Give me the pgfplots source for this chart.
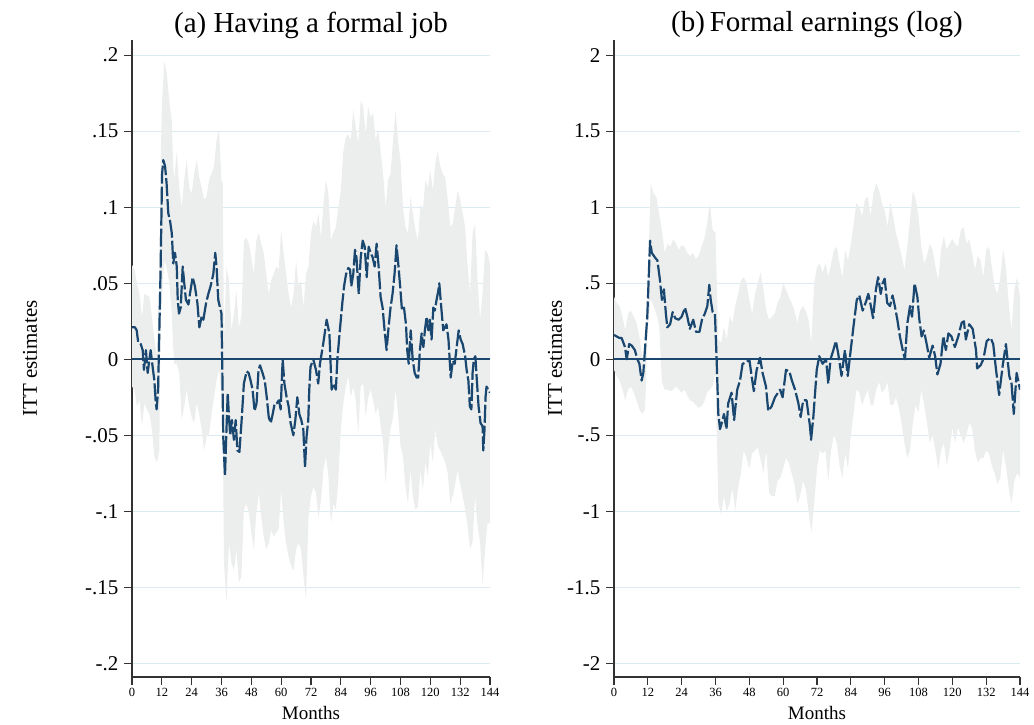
\documentclass[border=0pt]{standalone}
\usepackage{fontspec}
\setmainfont{Liberation Serif}
\usepackage{pgfplots}
\pgfplotsset{compat=1.18}
\usepgfplotslibrary{fillbetween}
\usepackage{pgfplotstable}
\definecolor{navy}{RGB}{26,71,111}
\definecolor{bandc}{RGB}{236,237,237}
\definecolor{gridc}{RGB}{218,235,241}

\pgfplotstableread{
t lo hi
0 -0.018 0.062
1 -0.020 0.059
2 -0.031 0.050
3 -0.027 0.043
4 -0.044 0.028
5 -0.029 0.043
6 -0.033 0.042
7 -0.036 0.041
8 -0.046 0.028
9 -0.064 0.013
10 -0.068 0.002
11 -0.060 0.056
11.4 0.020 0.120
12 0.040 0.166
13 0.065 0.196
14 0.060 0.188
15 0.050 0.170
16 0.030 0.157
16.5 0.010 0.130
17 -0.003 0.118
18 -0.003 0.137
19 -0.009 0.113
20 -0.040 0.100
21 -0.031 0.118
22 -0.020 0.131
23 -0.031 0.113
24 -0.038 0.109
25 -0.042 0.122
26 -0.029 0.131
27 -0.036 0.120
28 -0.046 0.113
29 -0.060 0.105
30 -0.051 0.107
31 -0.049 0.118
32 -0.036 0.122
33 -0.025 0.127
34 -0.014 0.144
35 -0.007 0.151
36 -0.025 0.118
36.5 -0.042 0.116
37 -0.134 0.013
38 -0.160 0.061
39 -0.121 0.052
40 -0.134 0.019
41 -0.139 0.030
42 -0.125 0.045
43 -0.147 0.021
44 -0.143 0.028
45 -0.099 0.078
46 -0.095 0.080
47 -0.101 0.076
48 -0.114 0.067
49 -0.125 0.056
50 -0.101 0.078
51 -0.088 0.083
52 -0.104 0.076
53 -0.117 0.070
54 -0.125 0.056
55 -0.121 0.043
56 -0.112 0.052
57 -0.117 0.056
58 -0.114 0.061
59 -0.112 0.059
60 -0.086 0.085
61 -0.108 0.070
62 -0.121 0.056
63 -0.130 0.043
64 -0.136 0.034
65 -0.139 0.043
66 -0.125 0.065
67 -0.121 0.048
68 -0.125 0.052
69 -0.143 0.034
70 -0.158 0.056
71 -0.104 0.061
72 -0.090 0.083
73 -0.084 0.091
74 -0.088 0.087
75 -0.104 0.096
76 -0.093 0.080
77 -0.073 0.102
78 -0.064 0.118
79 -0.077 0.109
80 -0.108 0.078
81 -0.095 0.083
82 -0.099 0.087
83 -0.079 0.100
84 -0.046 0.111
85 -0.029 0.137
86 -0.018 0.146
87 -0.011 0.148
88 -0.025 0.144
89 -0.018 0.164
90 -0.027 0.153
91 -0.049 0.142
92 -0.018 0.170
93 -0.016 0.166
94 -0.038 0.148
95 -0.025 0.166
96 -0.020 0.159
97 -0.027 0.162
98 -0.036 0.144
99 -0.031 0.151
100 -0.044 0.137
101 -0.055 0.122
102 -0.082 0.100
103 -0.060 0.118
104 -0.046 0.122
105 -0.038 0.144
106 -0.020 0.164
107 -0.036 0.144
108 -0.057 0.131
109 -0.064 0.100
110 -0.084 0.087
111 -0.095 0.083
112 -0.073 0.107
113 -0.090 0.096
114 -0.099 0.085
115 -0.097 0.078
116 -0.073 0.102
117 -0.086 0.098
118 -0.068 0.118
119 -0.077 0.113
120 -0.055 0.124
121 -0.068 0.111
122 -0.046 0.129
123 -0.057 0.137
124 -0.060 0.127
125 -0.064 0.122
126 -0.068 0.120
127 -0.075 0.105
128 -0.095 0.087
129 -0.090 0.089
130 -0.082 0.100
131 -0.073 0.111
132 -0.082 0.105
133 -0.090 0.096
134 -0.099 0.087
135 -0.110 0.061
136 -0.125 0.043
137 -0.120 0.083
138 -0.090 0.089
139 -0.110 0.052
140 -0.120 0.026
141 -0.148 0.043
142 -0.125 0.072
143 -0.108 0.070
144 -0.108 0.063
}\bandA

\pgfplotstableread{
t v
0 0.021
1.2 0.021
1.9 0.019
2.5 0.011
3.5 0.010
4.3 0.006
4.8 -0.007
5.6 0.006
6.3 -0.009
7.5 0.006
8.3 -0.005
9.0 -0.014
9.5 -0.027
9.9 -0.033
10.5 -0.020
11.0 0.019
11.5 0.059
12.1 0.122
12.6 0.131
13.3 0.127
13.9 0.116
14.6 0.096
15.3 0.091
16.0 0.083
16.6 0.063
17.3 0.070
18.0 0.061
18.4 0.039
18.9 0.030
19.6 0.034
20.4 0.061
20.9 0.052
21.7 0.039
22.7 0.036
23.3 0.043
24.4 0.054
25.3 0.048
26.3 0.037
27.1 0.021
28.0 0.028
28.7 0.026
29.8 0.037
30.7 0.043
31.6 0.048
32.7 0.056
33.5 0.070
34.0 0.061
34.7 0.039
35.4 0.034
36.0 0.030
36.5 -0.027
36.7 -0.051
37.4 -0.077
37.8 -0.056
38.5 -0.022
39.0 -0.038
39.5 -0.050
40.2 -0.040
41.0 -0.053
41.7 -0.040
42.4 -0.060
43.2 -0.061
44.1 -0.040
45.0 -0.016
46.1 -0.008
46.9 -0.009
47.7 -0.014
48.5 -0.020
49.3 -0.034
50.1 -0.029
50.9 -0.007
51.5 -0.004
52.5 -0.009
53.4 -0.014
54.2 -0.025
55.0 -0.038
55.8 -0.042
56.6 -0.036
57.4 -0.029
58.2 -0.029
59.1 -0.027
59.8 -0.033
60.6 0.000
61.3 -0.016
62.2 -0.025
63.0 -0.031
63.8 -0.042
64.9 -0.050
65.7 -0.040
66.5 -0.025
67.3 -0.036
68.1 -0.040
68.9 -0.046
69.6 -0.071
70.2 -0.051
70.9 -0.040
71.3 -0.020
71.8 -0.005
72.9 0.000
74.0 -0.007
74.9 -0.016
75.6 -0.003
76.9 0.010
78.3 0.026
79.4 0.017
80.3 -0.020
81.0 -0.016
82.0 -0.020
82.6 0.000
83.6 0.019
84.6 0.037
85.3 0.048
86.1 0.056
87.0 0.060
87.7 0.059
88.2 0.048
89.0 0.056
89.7 0.072
90.3 0.067
91.2 0.043
92.0 0.067
92.8 0.078
93.6 0.074
94.4 0.054
95.2 0.074
96.0 0.070
96.8 0.067
97.6 0.061
98.4 0.076
99.2 0.061
100.0 0.041
100.8 0.034
101.6 0.019
102.4 0.006
103.2 0.021
104.0 0.034
104.8 0.043
105.6 0.056
106.4 0.075
107.2 0.061
108.0 0.045
108.6 0.032
109.4 0.034
110.2 0.023
110.7 0.006
111.3 -0.003
112.1 0.019
112.9 0.000
113.7 -0.009
114.5 -0.012
115.1 -0.012
115.8 0.006
116.5 0.017
117.2 0.008
117.8 0.019
118.5 0.028
119.2 0.019
119.8 0.026
120.5 0.013
121.2 0.034
121.8 0.032
122.5 0.039
123.2 0.045
123.6 0.050
124.4 0.034
125.2 0.019
126.5 0.023
127.3 0.013
128.2 -0.012
129.0 -0.001
129.8 -0.003
130.6 0.008
131.4 0.019
132.2 0.013
133.0 0.010
134.0 0.002
134.6 -0.007
135.3 -0.014
135.9 -0.031
136.5 -0.033
137.0 -0.009
137.5 0.000
138.1 0.002
138.6 -0.011
139.4 -0.031
140.2 -0.042
141.0 -0.044
141.3 -0.060
141.8 -0.046
142.2 -0.025
142.6 -0.018
143.7 -0.021
144 -0.022
}\estA

\pgfplotstableread{
t lo hi
0 -0.07 0.41
1 -0.11 0.37
2 -0.14 0.35
3 -0.20 0.28
4 -0.27 0.19
5 -0.20 0.30
6 -0.18 0.32
7 -0.22 0.28
8 -0.27 0.24
9 -0.33 0.15
10 -0.36 0.02
11 -0.33 -0.04
12 0.20 0.50
13 0.40 1.16
14 0.35 1.09
15 0.30 1.07
16 0.22 0.96
17 -0.15 0.85
18 -0.20 0.70
19 -0.20 0.76
20 -0.21 0.74
21 -0.20 0.79
22 -0.18 0.76
23 -0.20 0.72
24 -0.22 0.75
25 -0.20 0.74
26 -0.24 0.70
27 -0.27 0.68
28 -0.28 0.70
29 -0.30 0.66
30 -0.32 0.68
31 -0.31 0.74
32 -0.28 0.79
33 -0.22 0.89
34 -0.20 1.03
35 -0.17 0.85
36 -0.10 0.83
37 -0.95 0.13
38 -1.02 0.11
39 -0.90 0.21
40 -1.00 0.13
41 -0.95 0.28
42 -0.85 0.24
43 -1.00 0.35
44 -0.85 0.43
45 -0.75 0.52
46 -0.60 0.54
47 -0.65 0.50
48 -0.72 0.39
49 -0.62 0.30
50 -0.60 0.43
51 -0.58 0.50
52 -0.66 0.57
53 -0.75 0.46
54 -0.60 0.32
55 -0.88 0.26
56 -0.90 0.28
57 -0.90 0.30
58 -0.80 0.37
59 -0.78 0.41
60 -0.72 0.50
61 -0.65 0.46
62 -0.68 0.41
63 -0.75 0.37
64 -0.82 0.32
65 -0.95 0.24
66 -0.90 0.32
67 -0.80 0.35
68 -0.85 0.32
69 -1.00 0.26
70 -1.14 0.11
71 -0.95 0.50
72 -0.72 0.61
73 -0.60 0.63
74 -0.62 0.57
75 -0.60 0.63
76 -0.80 0.54
77 -0.60 0.63
78 -0.50 0.72
79 -0.55 0.74
80 -0.70 0.63
81 -0.78 0.54
82 -0.62 0.72
83 -0.72 0.65
84 -0.50 0.76
85 -0.35 0.89
86 -0.20 1.03
87 -0.22 1.00
88 -0.30 0.94
89 -0.25 1.05
90 -0.20 1.07
91 -0.30 0.94
92 -0.30 1.09
93 -0.20 1.16
94 -0.15 1.11
95 -0.22 1.03
96 -0.20 0.98
97 -0.15 0.87
98 -0.30 1.03
99 -0.30 0.94
100 -0.25 0.83
101 -0.32 0.76
102 -0.42 0.68
103 -0.55 0.59
104 -0.65 0.74
105 -0.60 0.92
106 -0.42 1.11
107 -0.30 1.05
108 -0.35 0.94
109 -0.20 0.74
110 -0.30 0.63
111 -0.42 0.68
112 -0.55 0.76
113 -0.50 0.72
114 -0.60 0.61
115 -0.72 0.52
116 -0.60 0.72
117 -0.55 0.81
118 -0.70 0.72
119 -0.60 0.76
120 -0.45 0.79
121 -0.55 0.76
122 -0.45 0.74
123 -0.50 0.85
124 -0.55 0.87
125 -0.50 0.76
126 -0.42 0.79
127 -0.45 0.70
128 -0.60 0.59
129 -0.68 0.68
130 -0.65 0.65
131 -0.65 0.54
132 -0.60 0.72
133 -0.62 0.74
134 -0.70 0.61
135 -0.75 0.48
136 -0.82 0.43
137 -0.78 0.54
138 -0.60 0.72
139 -0.70 0.61
140 -0.85 0.37
141 -0.95 0.19
142 -0.80 0.46
143 -0.75 0.54
144 -0.78 0.41
}\bandB

\pgfplotstableread{
t v
0.0 0.16
1.9 0.14
2.7 0.14
3.9 0.08
4.5 0.00
5.4 0.10
6.3 0.09
7.4 0.06
8.3 0.00
9.0 -0.03
9.8 -0.14
10.4 -0.09
11.8 0.28
12.8 0.78
13.4 0.70
14.5 0.67
15.4 0.65
16.3 0.52
17.0 0.39
17.7 0.46
18.4 0.30
18.9 0.21
19.9 0.23
20.8 0.31
21.7 0.27
22.9 0.26
24.0 0.28
25.2 0.34
26.0 0.28
26.9 0.20
28.1 0.26
29.1 0.18
30.3 0.18
31.2 0.26
32.2 0.30
33.1 0.35
33.8 0.49
34.3 0.39
35.0 0.31
35.8 0.30
36.4 0.00
37.0 -0.36
37.6 -0.46
38.5 -0.40
39.0 -0.36
39.9 -0.46
40.5 -0.29
41.7 -0.22
42.6 -0.40
43.7 -0.20
44.7 -0.14
45.6 -0.03
47.0 -0.02
48.0 0.00
48.8 -0.11
49.6 -0.21
50.6 -0.07
51.8 0.01
52.7 -0.09
53.9 -0.18
54.7 -0.34
55.9 -0.31
57.1 -0.25
58.9 -0.20
59.8 -0.25
61.0 -0.07
62.2 -0.08
63.1 -0.14
64.2 -0.20
65.4 -0.29
66.2 -0.38
67.1 -0.27
68.3 -0.27
69.5 -0.44
69.9 -0.53
70.7 -0.38
71.4 -0.20
71.9 -0.07
72.8 0.02
74.0 -0.03
75.2 0.00
76.0 -0.16
76.8 0.00
77.8 0.06
78.7 0.12
79.5 0.04
80.7 -0.11
81.9 0.06
82.9 -0.11
83.7 0.02
84.9 0.21
86.1 0.39
87.0 0.42
88.2 0.32
89.4 0.38
90.2 0.43
91.0 0.36
91.9 0.27
92.9 0.46
93.7 0.54
94.6 0.43
95.3 0.50
96.0 0.53
96.9 0.37
97.9 0.35
98.8 0.42
99.6 0.35
100.5 0.26
101.4 0.15
102.4 0.06
103.2 0.00
104.0 0.23
105.0 0.35
105.7 0.28
106.6 0.50
107.6 0.41
108.3 0.26
109.1 0.15
109.9 0.19
110.9 0.10
111.8 0.01
113.0 0.09
113.9 0.02
114.7 -0.10
115.8 -0.03
116.8 0.15
117.7 0.06
118.6 0.17
119.7 0.15
120.9 0.08
122.1 0.15
123.3 0.24
124.1 0.25
124.8 0.13
126.0 0.23
127.2 0.20
128.4 0.06
128.8 -0.06
130.0 -0.04
131.0 0.00
132.2 0.12
133.6 0.14
134.5 0.10
135.5 -0.07
136.6 -0.235
137.8 -0.05
139.0 0.10
140.2 -0.11
141.0 -0.16
141.8 -0.36
142.8 -0.09
144.0 -0.20
}\estB

\pgfplotsset{
  ittstyle/.style={
    scale only axis, enlargelimits=false, height=637pt,
    axis lines=left, axis line style={-, line width=1.3pt, black!80},
    tick style={line width=1.1pt, black!80}, tick align=outside, major tick length=8pt,
    xmin=0, xmax=144, xtick={0,12,...,144},
    xticklabels={0,12,24,36,48,60,72,84,96,108,120,132,144},
    xticklabel style={font=\fontsize{12.5}{14}\selectfont},
    yticklabel style={font=\fontsize{21}{24}\selectfont, xshift=-2pt},
    ymajorgrids, grid style={gridc, line width=1pt},
    xlabel={Months},
    xlabel style={font=\fontsize{19}{22}\selectfont, at={(axis description cs:0.5,-0.0565)}, anchor=center},
    ylabel={ITT estimates},
    title style={font=\fontsize{29}{34}\selectfont, at={(axis description cs:0.5,1)}, anchor=center, yshift=9pt},
  },
  estline/.style={navy, line width=2.2pt, dash pattern=on 18pt off 3pt, line join=round},
  zeroline/.style={navy, line width=2pt},
}

\begin{document}
\begin{tikzpicture}
\begin{axis}[ittstyle, at={(132pt,48pt)}, anchor=south west, width=358pt,
  ymin=-0.209, ymax=0.21,
  ytick={-0.2,-0.15,-0.1,-0.05,0,0.05,0.1,0.15,0.2},
  yticklabels={-.2,-.15,-.1,-.05,0,.05,.1,.15,.2},
  ylabel style={font=\fontsize{21}{24}\selectfont, at={(axis description cs:-0.285,0.5)}, anchor=center},
  title={(a) Having a formal job}]
\addplot[name path=hiA, draw=none, forget plot] table[x=t, y=hi]{\bandA};
\addplot[name path=loA, draw=none, forget plot] table[x=t, y=lo]{\bandA};
\addplot[bandc, forget plot] fill between[of=hiA and loA];
\addplot[zeroline] coordinates {(0,0) (144,0)};
\addplot[estline] table[x=t, y=v]{\estA};
\end{axis}

\begin{axis}[ittstyle, at={(614pt,48pt)}, anchor=south west, width=406pt,
  ymin=-2.09, ymax=2.1,
  ytick={-2,-1.5,-1,-0.5,0,0.5,1,1.5,2},
  yticklabels={-2,-1.5,-1,-.5,0,.5,1,1.5,2},
  ylabel style={font=\fontsize{21}{24}\selectfont, at={(axis description cs:-0.1453,0.5)}, anchor=center},
  title={(b)\,Formal earnings (log)}]
\addplot[name path=hiB, draw=none, forget plot] table[x=t, y=hi]{\bandB};
\addplot[name path=loB, draw=none, forget plot] table[x=t, y=lo]{\bandB};
\addplot[bandc, forget plot] fill between[of=hiB and loB];
\addplot[zeroline] coordinates {(0,0) (144,0)};
\addplot[estline] table[x=t, y=v]{\estB};
\end{axis}
\pgfresetboundingbox
\useasboundingbox (0,0) rectangle (1034pt,725pt);
\end{tikzpicture}
\end{document}
